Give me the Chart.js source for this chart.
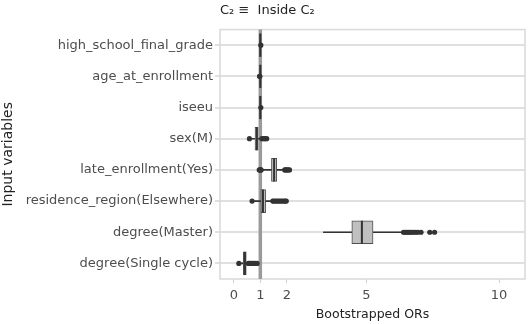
<!DOCTYPE html>
<html>
<head>
<meta charset="utf-8">
<script src="https://cdn.jsdelivr.net/npm/chart.js@4"></script>
<style>
  html, body { margin: 0; padding: 0; background: #fff; }
  #wrap { width: 529px; height: 324px; }
</style>
</head>
<body>
<div id="wrap"><canvas id="orChart" width="529" height="324"></canvas></div>
<script>
// Входные переменные (ось Y)
const categories = [
  'high_school_final_grade',
  'age_at_enrollment',
  'iseeu',
  'sex(M)',
  'late_enrollment(Yes)',
  'residence_region(Elsewhere)',
  'degree(Master)',
  'degree(Single cycle)'
];

// Статистики боксплотов (бутстреп OR)
const whiskerLow  = [0.985, 0.98, 0.99, 0.66, 1.05, 0.72, 3.38, 0.22];
const quart1      = [0.975, 0.975, 0.975, 0.80, 1.42, 1.02, 4.45, 0.36];
const median      = [1.00, 1.00, 1.00, 0.87, 1.52, 1.10, 4.83, 0.42];
const quart3      = [1.025, 1.025, 1.025, 0.92, 1.62, 1.20, 5.25, 0.47];
const whiskerHigh = [1.015, 1.015, 1.01, 1.03, 1.90, 1.44, 6.35, 0.52];

// Выбросы по каждой переменной
const outliers = [
  [1.02],
  [0.975, 0.98],
  [1.02],
  [0.59, 1.06, 1.12, 1.18, 1.24],
  [0.96, 0.99, 1.01, 1.03, 1.92, 1.96, 2.0, 2.05, 2.1],
  [0.69, 1.47, 1.52, 1.58, 1.64, 1.7, 1.76, 1.82, 1.88, 1.94, 1.98],
  [6.4, 6.46, 6.52, 6.58, 6.64, 6.7, 6.78, 6.86, 6.94, 7.06, 7.39, 7.57],
  [0.19, 0.55, 0.6, 0.65, 0.7, 0.76, 0.82, 0.88]
];

// Деления оси X
const xTicks = [0, 1, 2, 5, 10];
const refValue = 1;

const textColor = '#4d4d4d';
const fontFamily = '"DejaVu Sans", sans-serif';

// Точки выбросов
const outlierPoints = [];
outliers.forEach((list, i) => {
  list.forEach(v => outlierPoints.push({ x: v, y: categories[i] }));
});

// Рамка области графика и линия OR = 1
const framePlugin = {
  id: 'frame',
  beforeDatasetsDraw(chart) {
    const { ctx, chartArea: a, scales } = chart;
    ctx.save();
    ctx.strokeStyle = '#d9d9d9';
    ctx.lineWidth = 1.5;
    ctx.strokeRect(a.left, a.top, a.right - a.left, a.bottom - a.top);
    const x = scales.x.getPixelForValue(refValue);
    ctx.strokeStyle = '#9a9a9a';
    ctx.lineWidth = 3.5;
    ctx.beginPath();
    ctx.moveTo(x, a.top);
    ctx.lineTo(x, a.bottom);
    ctx.stroke();
    ctx.restore();
  }
};

// Медианы
const medianPlugin = {
  id: 'medians',
  afterDatasetsDraw(chart) {
    const { ctx, scales } = chart;
    ctx.save();
    ctx.strokeStyle = '#333';
    ctx.lineWidth = 2;
    median.forEach((m, i) => {
      const x = scales.x.getPixelForValue(m);
      const y = scales.y.getPixelForValue(i);
      ctx.beginPath();
      ctx.moveTo(x, y - 11.5);
      ctx.lineTo(x, y + 11.5);
      ctx.stroke();
    });
    ctx.restore();
  }
};

const ctx = document.getElementById('orChart').getContext('2d');

const chart = new Chart(ctx, {
  type: 'bar',
  data: {
    labels: categories,
    datasets: [
      {
        type: 'scatter',
        data: outlierPoints,
        backgroundColor: '#333',
        borderWidth: 0,
        pointRadius: 2.6,
        order: 0
      },
      {
        data: categories.map((c, i) => [quart1[i], quart3[i]]),
        backgroundColor: '#c0c0c0',
        borderColor: '#505050',
        borderWidth: 1,
        borderSkipped: false,
        barThickness: 23,
        grouped: false,
        order: 1
      },
      {
        data: categories.map((c, i) => [whiskerLow[i], whiskerHigh[i]]),
        backgroundColor: '#333',
        borderWidth: 0,
        barThickness: 1,
        grouped: false,
        order: 2
      }
    ]
  },
  options: {
    indexAxis: 'y',
    responsive: false,
    animation: false,
    layout: { padding: { left: 0, right: 3, top: 0, bottom: 0 } },
    plugins: {
      legend: { display: false },
      tooltip: { enabled: false },
      title: {
        display: true,
        text: 'C₂ ≡  Inside C₂',
        align: 'start',
        fullSize: false,
        color: '#222',
        font: { family: fontFamily, size: 13, weight: 'normal' },
        padding: { top: 3, bottom: 11 }
      }
    },
    scales: {
      x: {
        type: 'linear',
        min: -0.52,
        max: 10.98,
        afterBuildTicks(scale) {
          scale.ticks = xTicks.map(v => ({ value: v }));
        },
        afterFit(scale) { scale.height = 45; },
        grid: {
          drawOnChartArea: false,
          color: '#d0d0d0',
          tickLength: 4
        },
        border: { display: false },
        ticks: {
          color: textColor,
          padding: 5,
          font: { family: fontFamily, size: 13 }
        },
        title: {
          display: true,
          text: 'Bootstrapped ORs',
          color: '#222',
          padding: { top: 0, bottom: 2 },
          font: { family: fontFamily, size: 12.5 }
        }
      },
      y: {
        type: 'category',
        offset: true,
        afterFit(scale) { scale.width = 220; },
        grid: {
          offset: false,
          color: '#e0e0e0',
          lineWidth: 2,
          tickLength: 5
        },
        border: { display: false },
        ticks: {
          color: textColor,
          padding: 2,
          font: { family: fontFamily, size: 13 }
        },
        title: {
          display: true,
          text: 'Input variables',
          color: '#222',
          padding: { top: 0, bottom: 0 },
          font: { family: fontFamily, size: 14 }
        }
      }
    }
  },
  plugins: [framePlugin, medianPlugin]
});
</script>
</body>
</html>
